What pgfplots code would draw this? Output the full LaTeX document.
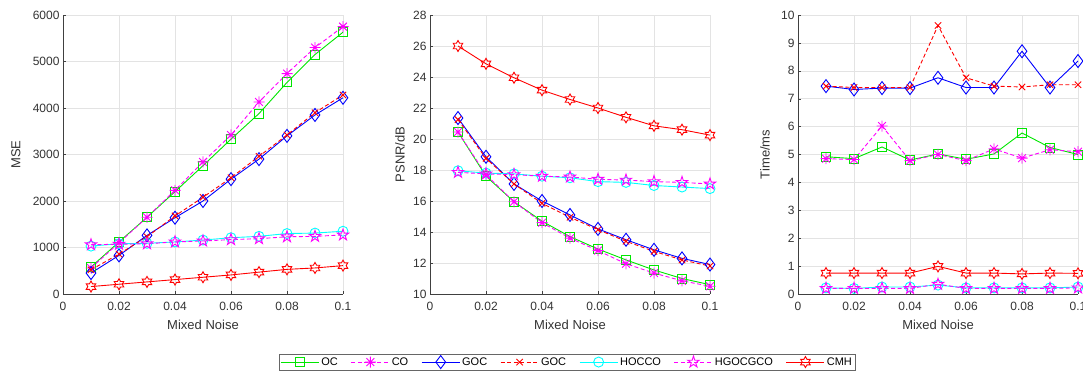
\documentclass[border=0pt]{standalone}
\usepackage{fontspec}
\setmainfont{Liberation Sans}
\usepackage{pgfplots}
\pgfplotsset{compat=1.18}
\usetikzlibrary{plotmarks}

\pgfdeclareplotmark{ast8}{%
  \pgfpathmoveto{\pgfpoint{-\pgfplotmarksize}{0pt}}\pgfpathlineto{\pgfpoint{\pgfplotmarksize}{0pt}}%
  \pgfpathmoveto{\pgfpoint{0pt}{-\pgfplotmarksize}}\pgfpathlineto{\pgfpoint{0pt}{\pgfplotmarksize}}%
  \pgfpathmoveto{\pgfpoint{-0.707\pgfplotmarksize}{-0.707\pgfplotmarksize}}\pgfpathlineto{\pgfpoint{0.707\pgfplotmarksize}{0.707\pgfplotmarksize}}%
  \pgfpathmoveto{\pgfpoint{-0.707\pgfplotmarksize}{0.707\pgfplotmarksize}}\pgfpathlineto{\pgfpoint{0.707\pgfplotmarksize}{-0.707\pgfplotmarksize}}%
  \pgfusepathqstroke}
\pgfdeclareplotmark{pentagram}{%
  \pgfpathmoveto{\pgfpointpolar{90}{\pgfplotmarksize}}%
  \pgfpathlineto{\pgfpointpolar{126}{0.382\pgfplotmarksize}}%
  \pgfpathlineto{\pgfpointpolar{162}{\pgfplotmarksize}}%
  \pgfpathlineto{\pgfpointpolar{198}{0.382\pgfplotmarksize}}%
  \pgfpathlineto{\pgfpointpolar{234}{\pgfplotmarksize}}%
  \pgfpathlineto{\pgfpointpolar{270}{0.382\pgfplotmarksize}}%
  \pgfpathlineto{\pgfpointpolar{306}{\pgfplotmarksize}}%
  \pgfpathlineto{\pgfpointpolar{342}{0.382\pgfplotmarksize}}%
  \pgfpathlineto{\pgfpointpolar{18}{\pgfplotmarksize}}%
  \pgfpathlineto{\pgfpointpolar{54}{0.382\pgfplotmarksize}}%
  \pgfpathclose\pgfusepathqstroke}
\pgfdeclareplotmark{hexagram}{%
  \pgfpathmoveto{\pgfpointpolar{90}{\pgfplotmarksize}}%
  \pgfpathlineto{\pgfpointpolar{120}{0.577\pgfplotmarksize}}%
  \pgfpathlineto{\pgfpointpolar{150}{\pgfplotmarksize}}%
  \pgfpathlineto{\pgfpointpolar{180}{0.577\pgfplotmarksize}}%
  \pgfpathlineto{\pgfpointpolar{210}{\pgfplotmarksize}}%
  \pgfpathlineto{\pgfpointpolar{240}{0.577\pgfplotmarksize}}%
  \pgfpathlineto{\pgfpointpolar{270}{\pgfplotmarksize}}%
  \pgfpathlineto{\pgfpointpolar{300}{0.577\pgfplotmarksize}}%
  \pgfpathlineto{\pgfpointpolar{330}{\pgfplotmarksize}}%
  \pgfpathlineto{\pgfpointpolar{0}{0.577\pgfplotmarksize}}%
  \pgfpathlineto{\pgfpointpolar{30}{\pgfplotmarksize}}%
  \pgfpathlineto{\pgfpointpolar{60}{0.577\pgfplotmarksize}}%
  \pgfpathclose\pgfusepathqstroke}

\definecolor{mgreen}{RGB}{0,230,0}
\definecolor{mmag}{RGB}{255,0,255}
\definecolor{mblue}{RGB}{0,0,255}
\definecolor{mred}{RGB}{255,0,0}
\definecolor{mcyan}{RGB}{0,255,255}

\pgfplotsset{
  myaxis/.style={
    scale only axis, width=280pt, height=279pt,
    xmin=0, xmax=0.1,
    xtick={0,0.02,0.04,0.06,0.08,0.1},
    xticklabels={0,0.02,0.04,0.06,0.08,0.1},
    axis lines=left, axis line style={-, draw=black!75},
    grid=major, grid style={gray!22, line width=0.5pt},
    tick align=inside, major tick length=3pt, tick style={black!75},
    ticklabel style={font=\fontsize{12}{14}\selectfont, text=black!80},
    xticklabel style={yshift=-5pt},
    label style={font=\fontsize{13}{15}\selectfont, text=black!80},
    xlabel={Mixed Noise},
    xlabel style={at={(axis description cs:0.5,-0.112)}, anchor=center},
    /pgf/number format/assume math mode=true,
    /pgf/number format/1000 sep={},
    scaled ticks=false,
    every axis plot/.append style={line width=0.9pt},
    legend image code/.code={\draw[mark repeat=2,mark phase=2] plot coordinates {(0pt,0pt)(19pt,0pt)(38pt,0pt)};},
  },
  sOC/.style={mgreen, mark=square, mark size=4.5pt},
  sCO/.style={mmag, dash pattern=on 4pt off 2.5pt, mark=ast8, mark size=5.5pt, mark options={solid}},
  sGOC/.style={mblue, mark=diamond, mark size=6.5pt},
  sGOCb/.style={mred, dash pattern=on 4pt off 2.5pt, mark=x, mark size=4.5pt, mark options={solid}},
  sHOCCO/.style={mcyan, mark=o, mark size=5pt},
  sHG/.style={mmag, dash pattern=on 4pt off 2.5pt, mark=pentagram, mark size=6pt, mark options={solid}},
  sCMH/.style={mred, mark=hexagram, mark size=5.5pt},
}

\begin{document}
\begin{tikzpicture}
\path[use as bounding box] (0,0) rectangle (1083pt,374pt);
\clip (0,0) rectangle (1083pt,374pt);

% ---------- MSE ----------
\begin{axis}[myaxis, at={(63pt,80pt)}, anchor=south west,
  ymin=0, ymax=6000, ytick={0,1000,2000,3000,4000,5000,6000},
  ylabel={MSE}, ylabel style={at={(axis description cs:-0.168,0.5)}, anchor=center}]
\addplot[sOC] coordinates {(0.01,580)(0.02,1120)(0.03,1650)(0.04,2200)(0.05,2760)(0.06,3330)(0.07,3880)(0.08,4550)(0.09,5150)(0.1,5630)};
\addplot[sCO] coordinates {(0.01,560)(0.02,1100)(0.03,1650)(0.04,2230)(0.05,2840)(0.06,3420)(0.07,4130)(0.08,4740)(0.09,5300)(0.1,5750)};
\addplot[sGOC] coordinates {(0.01,450)(0.02,830)(0.03,1260)(0.04,1640)(0.05,2000)(0.06,2470)(0.07,2900)(0.08,3400)(0.09,3850)(0.1,4220)};
\addplot[sGOCb] coordinates {(0.01,520)(0.02,860)(0.03,1230)(0.04,1680)(0.05,2080)(0.06,2500)(0.07,2960)(0.08,3420)(0.09,3900)(0.1,4280)};
\addplot[sHOCCO] coordinates {(0.01,1030)(0.02,1080)(0.03,1090)(0.04,1120)(0.05,1160)(0.06,1210)(0.07,1240)(0.08,1300)(0.09,1310)(0.1,1350)};
\addplot[sHG] coordinates {(0.01,1060)(0.02,1070)(0.03,1080)(0.04,1120)(0.05,1140)(0.06,1170)(0.07,1190)(0.08,1230)(0.09,1240)(0.1,1270)};
\addplot[sCMH] coordinates {(0.01,160)(0.02,210)(0.03,260)(0.04,310)(0.05,360)(0.06,410)(0.07,470)(0.08,530)(0.09,560)(0.1,610)};
\end{axis}

% ---------- PSNR ----------
\begin{axis}[myaxis, at={(430pt,80pt)}, anchor=south west,
  ymin=10, ymax=28, ytick={10,12,...,28},
  ylabel={PSNR/dB}, ylabel style={at={(axis description cs:-0.107,0.5)}, anchor=center},
  legend columns=7,
  legend style={at={(0.49,-0.244)}, anchor=center, draw=black!60, line width=0.5pt,
    font=\fontsize{11}{13}\selectfont, inner sep=1.5pt,
    /tikz/every even column/.append style={column sep=11pt}},
  legend cell align=left]
\addplot[sOC] coordinates {(0.01,20.45)(0.02,17.6)(0.03,15.95)(0.04,14.7)(0.05,13.7)(0.06,12.9)(0.07,12.2)(0.08,11.55)(0.09,11.0)(0.1,10.6)};
\addlegendentry{OC}
\addplot[sCO] coordinates {(0.01,20.45)(0.02,17.7)(0.03,15.95)(0.04,14.6)(0.05,13.6)(0.06,12.8)(0.07,11.95)(0.08,11.35)(0.09,10.85)(0.1,10.5)};
\addlegendentry{CO}
\addplot[sGOC] coordinates {(0.01,21.35)(0.02,18.85)(0.03,17.1)(0.04,16.0)(0.05,15.1)(0.06,14.2)(0.07,13.5)(0.08,12.85)(0.09,12.3)(0.1,11.9)};
\addlegendentry{GOC}
\addplot[sGOCb] coordinates {(0.01,21.25)(0.02,18.75)(0.03,17.1)(0.04,15.85)(0.05,14.95)(0.06,14.15)(0.07,13.4)(0.08,12.75)(0.09,12.2)(0.1,11.8)};
\addlegendentry{GOC}
\addplot[sHOCCO] coordinates {(0.01,17.95)(0.02,17.8)(0.03,17.75)(0.04,17.6)(0.05,17.5)(0.06,17.25)(0.07,17.2)(0.08,17.0)(0.09,16.9)(0.1,16.8)};
\addlegendentry{HOCCO}
\addplot[sHG] coordinates {(0.01,17.85)(0.02,17.75)(0.03,17.7)(0.04,17.6)(0.05,17.55)(0.06,17.4)(0.07,17.35)(0.08,17.25)(0.09,17.2)(0.1,17.1)};
\addlegendentry{HGOCGCO}
\addplot[sCMH] coordinates {(0.01,26.0)(0.02,24.85)(0.03,23.95)(0.04,23.15)(0.05,22.55)(0.06,22.0)(0.07,21.4)(0.08,20.85)(0.09,20.6)(0.1,20.25)};
\addlegendentry{CMH}
\end{axis}

% ---------- Time ----------
\begin{axis}[myaxis, at={(798pt,80pt)}, anchor=south west,
  ymin=0, ymax=10, ytick={0,1,...,10},
  ylabel={Time/ms}, ylabel style={at={(axis description cs:-0.118,0.5)}, anchor=center}]
\addplot[sOC] coordinates {(0.01,4.92)(0.02,4.85)(0.03,5.27)(0.04,4.8)(0.05,5.02)(0.06,4.83)(0.07,5.02)(0.08,5.77)(0.09,5.25)(0.1,5.0)};
\addplot[sCO] coordinates {(0.01,4.85)(0.02,4.82)(0.03,6.02)(0.04,4.78)(0.05,5.0)(0.06,4.78)(0.07,5.2)(0.08,4.87)(0.09,5.17)(0.1,5.1)};
\addplot[sGOC] coordinates {(0.01,7.45)(0.02,7.33)(0.03,7.38)(0.04,7.38)(0.05,7.75)(0.06,7.4)(0.07,7.4)(0.08,8.7)(0.09,7.4)(0.1,8.35)};
\addplot[sGOCb] coordinates {(0.01,7.45)(0.02,7.4)(0.03,7.4)(0.04,7.4)(0.05,9.62)(0.06,7.75)(0.07,7.45)(0.08,7.42)(0.09,7.5)(0.1,7.5)};
\addplot[sHOCCO] coordinates {(0.01,0.22)(0.02,0.2)(0.03,0.25)(0.04,0.25)(0.05,0.32)(0.06,0.22)(0.07,0.22)(0.08,0.22)(0.09,0.22)(0.1,0.25)};
\addplot[sHG] coordinates {(0.01,0.2)(0.02,0.2)(0.03,0.2)(0.04,0.2)(0.05,0.35)(0.06,0.2)(0.07,0.2)(0.08,0.2)(0.09,0.2)(0.1,0.22)};
\addplot[sCMH] coordinates {(0.01,0.75)(0.02,0.75)(0.03,0.75)(0.04,0.75)(0.05,0.99)(0.06,0.75)(0.07,0.75)(0.08,0.72)(0.09,0.75)(0.1,0.74)};
\end{axis}
\end{tikzpicture}
\end{document}
